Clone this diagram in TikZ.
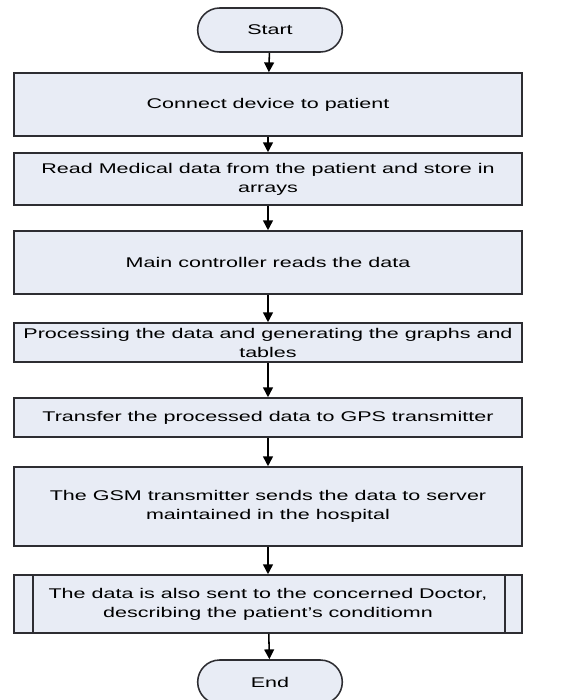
\documentclass[tikz,border=0pt]{standalone}
\usepackage{fontspec}
\setmainfont[FakeStretch=1.53]{Liberation Sans}
\usetikzlibrary{arrows.meta,shapes.misc}
\definecolor{boxfill}{RGB}{232,236,245}
\definecolor{boxline}{RGB}{45,45,50}

\begin{document}
\begin{tikzpicture}[
  line width=1.1pt,
  every node/.style={font=\fontsize{10}{13.5}\selectfont},
  step node/.style={rectangle,draw=boxline,fill=boxfill,minimum width=12.7cm,align=center,inner sep=2pt},
  term node/.style={rounded rectangle,draw=boxline,fill=boxfill,minimum width=3.85cm,minimum height=1.1cm}]
  \useasboundingbox (0,0) rectangle (14,-17.5);

  \node[term node] (1) at (6.75,-0.75) {Start};
  \node[step node,minimum height=1.575cm] (2) at (6.7,-2.6125) {Connect device to patient};
  \node[step node,minimum height=1.3cm] (3) at (6.7,-4.475) {Read Medical data from the patient and store in\\arrays};
  \node[step node,minimum height=1.575cm] (4) at (6.7,-6.5625) {Main controller reads the data};
  \node[step node,minimum height=0.975cm] (5) at (6.7,-8.5625) {Processing the data and generating the graphs and\\tables};
  \node[step node,minimum height=0.975cm] (6) at (6.7,-10.4375) {Transfer the processed data to GPS transmitter};
  \node[step node,minimum height=1.975cm] (7) at (6.7,-12.6625) {The GSM transmitter sends the data to server\\maintained in the hospital};
  \node[step node,minimum height=1.45cm] (8) at (6.7,-15.1) {The data is also sent to the concerned Doctor,\\describing the patient's conditiomn};
  \node[term node] (9) at (6.75,-17.05) {End};

  % side bars of the predefined process
  \draw[boxline] ([xshift=0.5cm]8.north west) -- ([xshift=0.5cm]8.south west);
  \draw[boxline] ([xshift=-0.45cm]8.north east) -- ([xshift=-0.45cm]8.south east);

  \path[-{Triangle[width=7pt,length=7pt]},draw=black]
   (1) edge (2)
   (2) edge (3)
   (3) edge (4)
   (4) edge (5)
   (5) edge (6)
   (6) edge (7)
   (7) edge (8)
   (8) edge (9);
\end{tikzpicture}
\end{document}
